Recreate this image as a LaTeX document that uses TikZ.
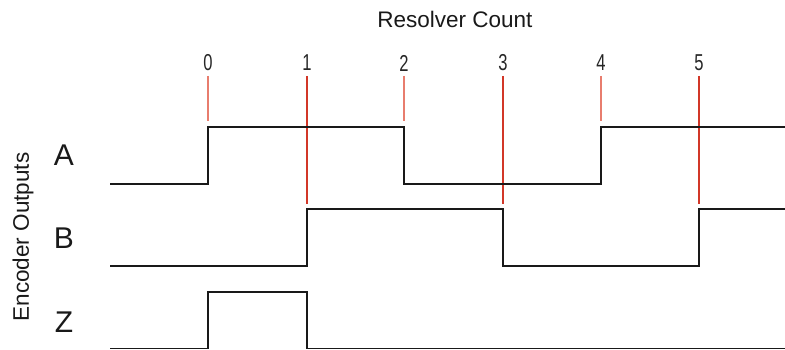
\documentclass[tikz,border=0pt]{standalone}
\usepackage{fontspec}
\setmainfont{Liberation Sans}
\definecolor{tickpale}{RGB}{232,125,110}
\definecolor{tickdeep}{RGB}{210,55,40}
\begin{document}
\begin{tikzpicture}[x=1pt,y=-1pt,
  sig/.style={draw=black!90, line width=1.6pt, line join=miter},
  tickA/.style={draw=tickpale, line width=1.5pt},
  tickB/.style={draw=tickdeep, line width=1.2pt},
  letter/.style={font=\fontsize{30}{34}\selectfont, text=black!90, inner sep=0pt},
  digit/.style={font=\fontsize{23}{26}\selectfont, text=black!85, inner sep=0pt, xscale=0.72},
  title/.style={font=\fontsize{22.5}{26}\selectfont, text=black!90, inner sep=0pt}]
\useasboundingbox (0,0) rectangle (785,350);
% title
\node[title] (rc) at (455,19) {Resolver Count};
\node[title, rotate=90] (eo) at (23,237) {Encoder Outputs};
% count digits
\foreach \i/\x in {0/208,1/307,2/404,3/503,4/601,5/699}
  \node[digit] (d\i) at (\x,63) {\i};
% red ticks
\foreach \x in {208,404,601}
  \draw[tickA] (\x,76) -- (\x,121);
\foreach \x in {307,503,699}
  \draw[tickB] (\x,76) -- (\x,204);
% labels
\node[letter] (la) at (64,155) {A};
\node[letter] (lb) at (64,238) {B};
\node[letter] (lz) at (64,322) {Z};
% signals
\draw[sig] (110,184) -- (208,184) -- (208,127) -- (404,127) -- (404,184) -- (601,184) -- (601,127) -- (785,127);
\draw[sig] (110,266) -- (307,266) -- (307,209) -- (503,209) -- (503,266) -- (699,266) -- (699,209) -- (785,209);
\draw[sig] (110,348.5) -- (208,348.5) -- (208,292) -- (307,292) -- (307,348.5) -- (785,348.5);
\end{tikzpicture}
\end{document}
